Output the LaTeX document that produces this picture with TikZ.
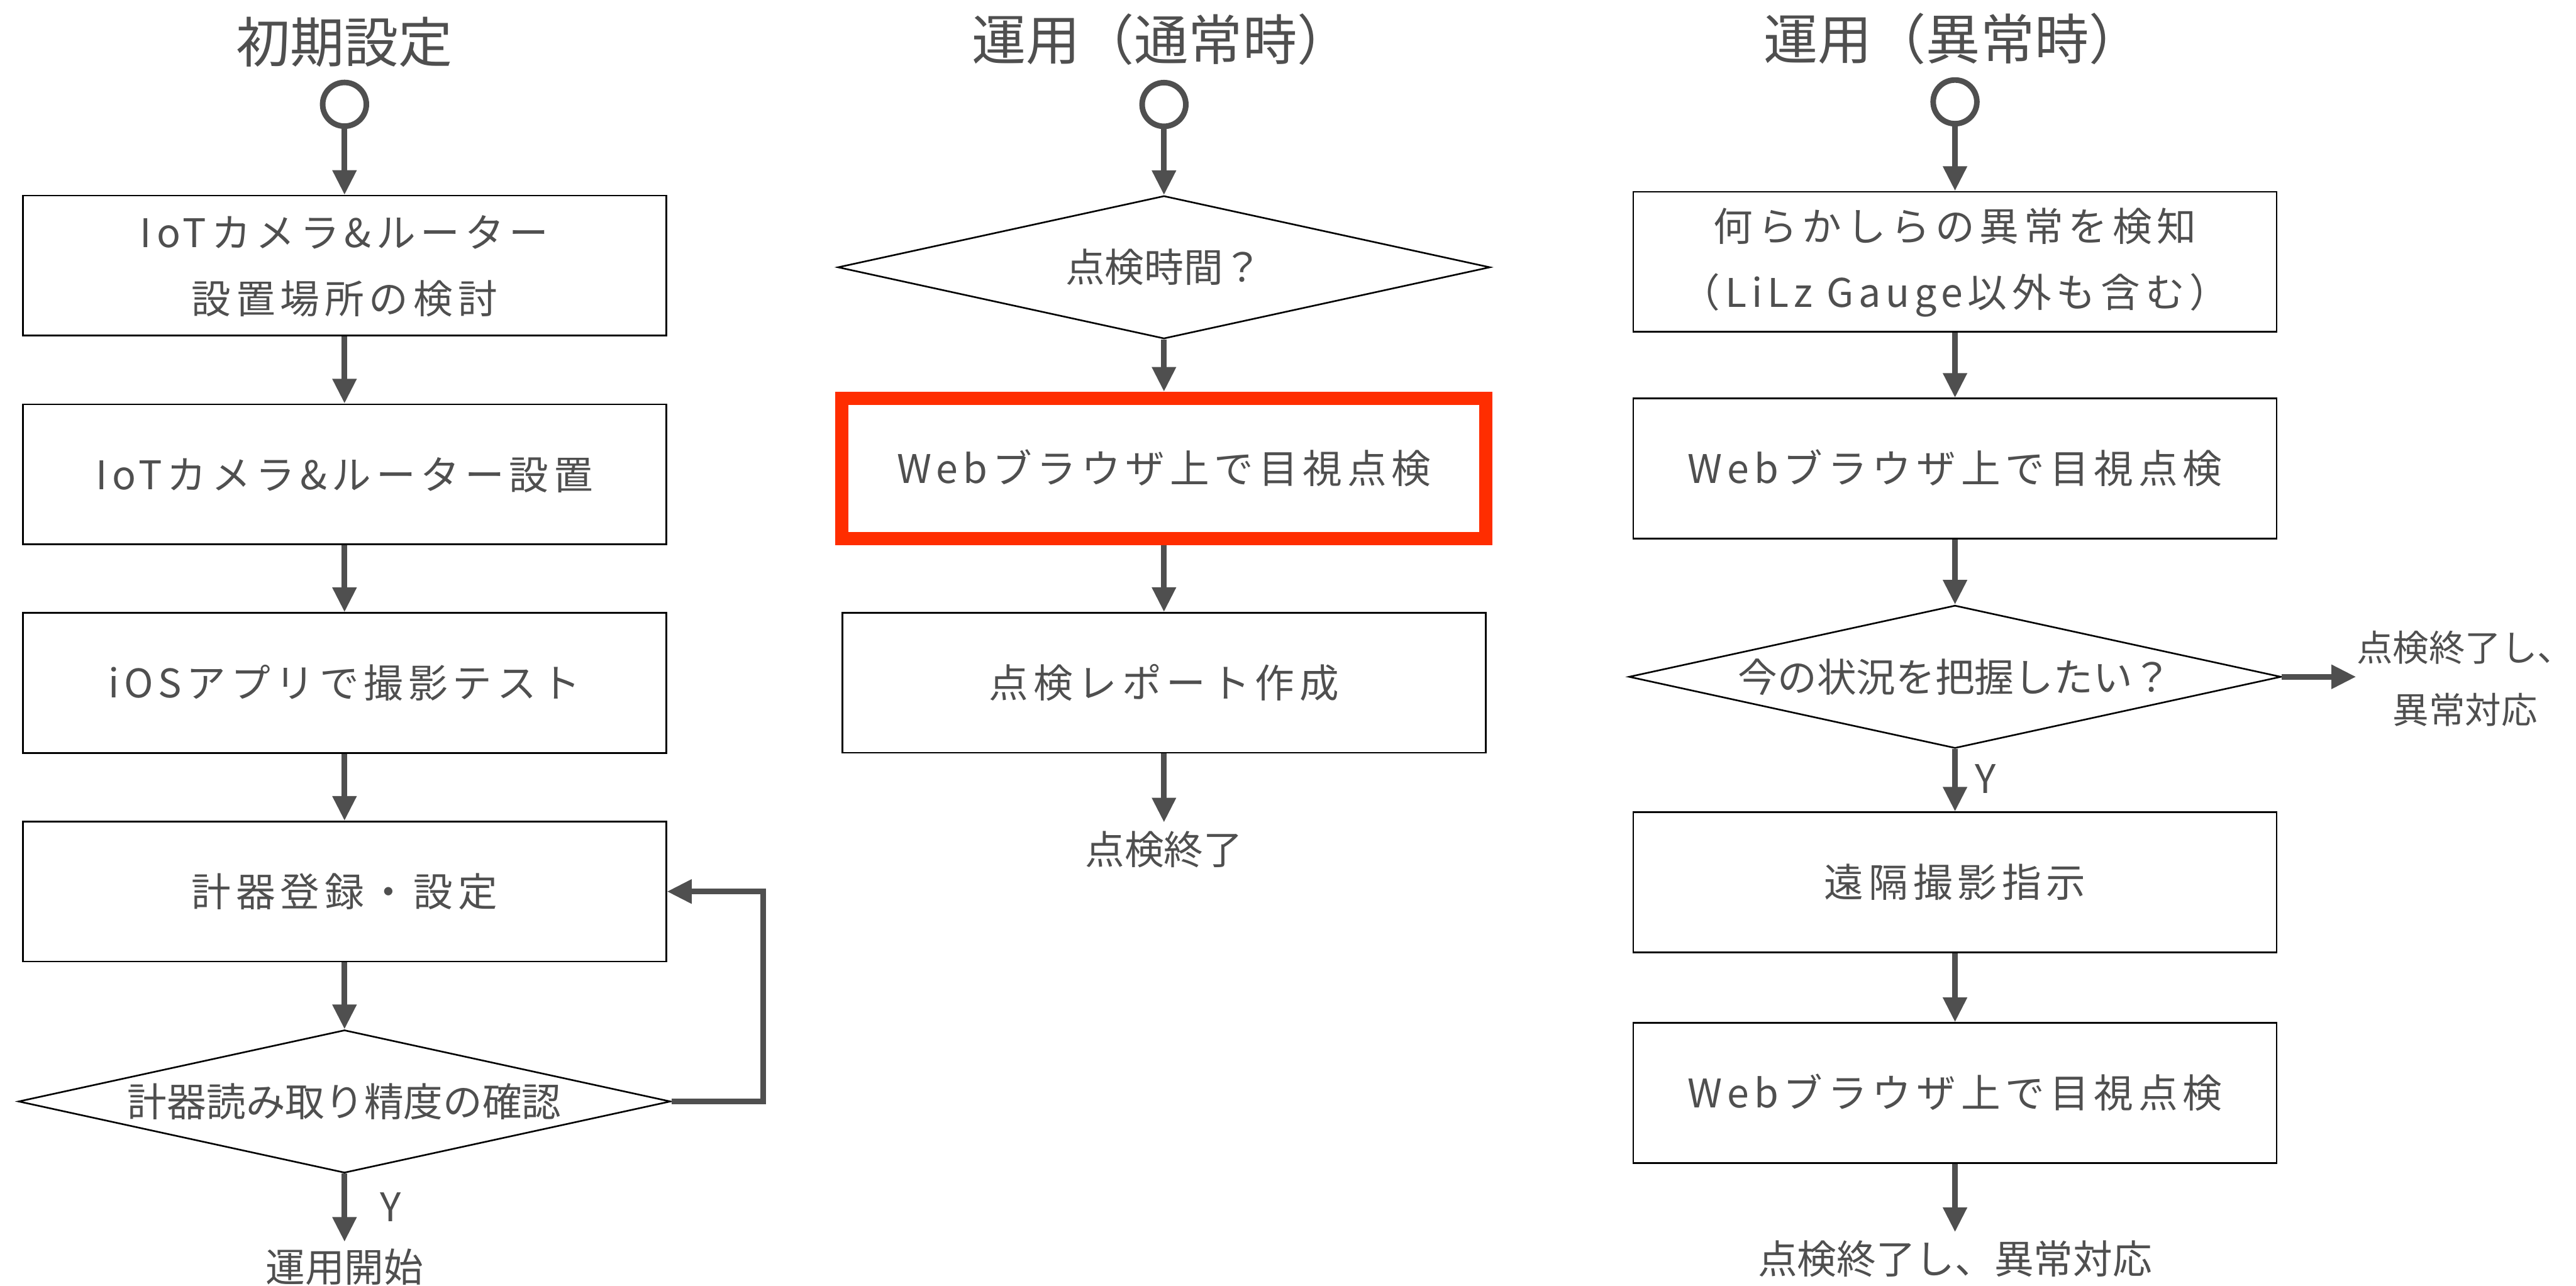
\documentclass[tikz,border=0pt]{standalone}
\usepackage{fontspec}
\setmainfont{Noto Sans CJK JP}
\newfontfamily\boxfont[LetterSpace=12.5]{Noto Sans CJK JP}
\usetikzlibrary{shapes.geometric,arrows.meta}
\definecolor{ink}{HTML}{4F4F4F}
\definecolor{hl}{RGB}{255,45,0}
\newcommand\mystrut{\rule[-0.12em]{0pt}{1em}}
\begin{document}
\begin{tikzpicture}[x=0.5pt,y=-0.5pt,
  proc/.style={draw=black,line width=0.5pt,minimum width=195.8pt,minimum height=42.6pt,inner sep=0pt,align=center,text=ink,font=\boxfont\fontsize{12pt}{20pt}\selectfont},
  hlbox/.style={proc,draw=hl,line width=4pt,minimum width=196pt,minimum height=42.7pt},
  decision/.style={diamond,draw=black,line width=0.5pt,aspect=4.55,minimum width=198.5pt,minimum height=43.5pt,inner sep=0pt,text=ink,font=\fontsize{12pt}{14pt}\selectfont},
  startc/.style={circle,draw=ink,line width=1.7pt,minimum size=13.3pt,inner sep=0pt},
  coltitle/.style={text=ink,font=\fontsize{16.5pt}{20pt}\selectfont,inner sep=0pt},
  endlabel/.style={text=ink,font=\fontsize{12pt}{19pt}\selectfont,inner sep=0pt,align=center},
  ylabel/.style={text=ink,font=\fontsize{12pt}{14pt}\selectfont,inner sep=0pt},
  flow/.style={draw=ink,line width=1.7pt,-{Triangle[length=7.5pt,width=7pt]}},
]
\path[use as bounding box] (0,0) rectangle (1568,782.7);

% ---------- column 1
\node[coltitle] (t1) at (209.7,25.5) {\mystrut 初期設定};
\node[startc] (s1) at (209.7,63.5) {};
\node[proc] (a1) at (209.7,161.7) {\mystrut IoTカメラ\&ルーター\\\mystrut 設置場所の検討};
\node[proc] (a2) at (209.7,288.7) {\mystrut IoTカメラ\&ルーター設置};
\node[proc] (a3) at (209.7,415.7) {\mystrut iOSアプリで撮影テスト};
\node[proc] (a4) at (209.7,542.7) {\mystrut 計器登録・設定};
\node[decision] (d1) at (209.7,670.5) {\mystrut 計器読み取り精度の確認};
\node[ylabel] (y1) at (237.8,734.4) {\mystrut Y};
\node[endlabel] (e1) at (209.7,771.3) {\mystrut 運用開始};
\coordinate (loop) at (464.5,670.5);

\draw[flow] (s1) -- (a1);
\draw[flow] (a1) -- (a2);
\draw[flow] (a2) -- (a3);
\draw[flow] (a3) -- (a4);
\draw[flow] (a4) -- (d1);
\draw[flow] (d1.east) -- (loop) |- (a4.east);
\draw[flow,shorten >=1.5pt] (d1) -- (e1);

% ---------- column 2
\node[coltitle] (t2) at (707,24) {\mystrut 運用（通常時）};
\node[startc] (s2) at (708.5,63.6) {};
\node[decision] (d2) at (708.5,162.7) {\mystrut 点検時間？};
\node[hlbox] (b2) at (708.5,285.1) {\mystrut Webブラウザ上で目視点検};
\node[proc] (c2) at (708.5,415.6) {\mystrut 点検レポート作成};
\node[endlabel] (e2) at (708.5,517) {\mystrut 点検終了};

\draw[flow] (s2) -- (d2);
\draw[flow] (d2) -- (b2);
\draw[flow] (b2) -- (c2);
\draw[flow,shorten >=2pt] (c2) -- (e2);

% ---------- column 3
\node[coltitle] (t3) at (1189,23.5) {\mystrut 運用（異常時）};
\node[startc] (s3) at (1190,62) {};
\node[proc] (f1) at (1190,159.3) {\mystrut 何らかしらの異常を検知\\\mystrut （LiLz Gauge以外も含む）};
\node[proc] (f2) at (1190,285.2) {\mystrut Webブラウザ上で目視点検};
\node[decision] (d3) at (1190,412) {\mystrut 今の状況を把握したい？};
\node[endlabel,font=\fontsize{11pt}{19pt}\selectfont] (side) at (1500.5,413) {\mystrut 点検終了し、\\\mystrut 異常対応};
\node[ylabel] (y3) at (1208.4,473.7) {\mystrut Y};
\node[proc] (f3) at (1190,537.1) {\mystrut 遠隔撮影指示};
\node[proc] (f4) at (1190,665.3) {\mystrut Webブラウザ上で目視点検};
\node[endlabel] (e3) at (1190,766.4) {\mystrut 点検終了し、異常対応};

\draw[flow] (s3) -- (f1);
\draw[flow] (f1) -- (f2);
\draw[flow] (f2) -- (d3);
\draw[flow] (d3.east) -- (d3.east -| side.west);
\draw[flow] (d3) -- (f3);
\draw[flow] (f3) -- (f4);
\draw[flow,shorten >=2pt] (f4) -- (e3);
\end{tikzpicture}
\end{document}
